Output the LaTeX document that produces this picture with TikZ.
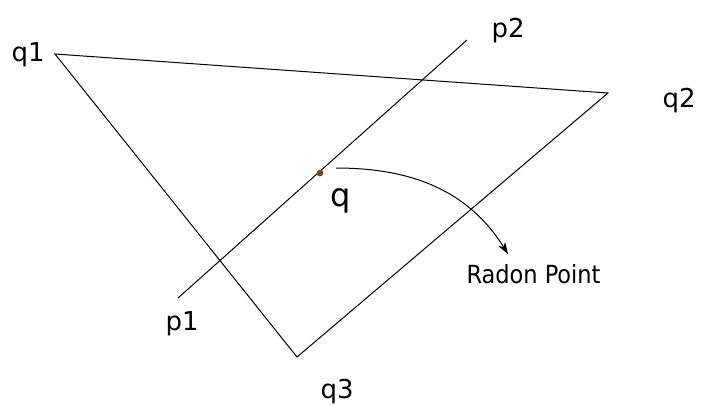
\documentclass[tikz,border=0pt]{standalone}
\usepackage{fontspec}
\setmainfont{DejaVu Sans}
\newfontfamily\condfont{DejaVu Sans Condensed}
\usetikzlibrary{arrows.meta}
\definecolor{dotbrown}{RGB}{110,75,45}
\begin{document}
\begin{tikzpicture}[x=0.5pt,y=-0.5pt, line width=0.5pt,
        every node/.style={inner sep=0pt, anchor=base west, font=\fontsize{13}{15}\selectfont}]
        \useasboundingbox (0,0) rectangle (701,404);

        % triangle corners and the crossing segment
        \coordinate (q1) at (55,54);
        \coordinate (q2) at (608,93);
        \coordinate (q3) at (297,357);
        \coordinate (p1) at (178,298);
        \coordinate (p2) at (467,40);

        \draw (q1) -- (q2) -- (q3) -- cycle;
        \draw (p1) -- (p2);

        % the common point
        \fill[dotbrown] (320,173) circle (3.4) coordinate (q);
        \coordinate (arrstart) at (336,168);
        \coordinate (arrend) at (508,254);
        \draw[-{Stealth[length=6pt,width=4pt]}] (arrstart) to[out=0,in=122] (arrend);

        % labels
        \node (lq1) at (11,61) {q1};
        \node (lq2) at (662,107) {q2};
        \node (lq3) at (320,398) {q3};
        \node (lp1) at (165,330) {p1};
        \node (lp2) at (491,37) {p2};
        \node[font=\fontsize{16}{18}\selectfont] (lq) at (330,206) {q};
        \node[font=\condfont\fontsize{12.5}{14}\selectfont] (lradon) at (466,283) {Radon Point};
    \end{tikzpicture}
\end{document}
